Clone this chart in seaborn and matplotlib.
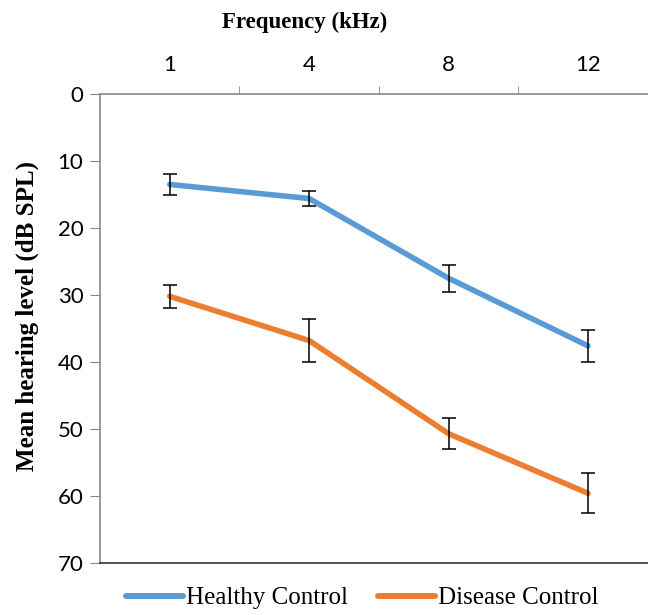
import matplotlib
matplotlib.use("Agg")
import matplotlib.pyplot as plt
import seaborn as sns
import pandas as pd
import numpy as np
from matplotlib.lines import Line2D

frequencies = ["1", "4", "8", "12"]
healthy_mean = [13.5, 15.6, 27.5, 37.6]
healthy_err = [1.6, 1.1, 2.0, 2.4]
disease_mean = [30.2, 36.8, 50.7, 59.6]
disease_err = [1.7, 3.2, 2.3, 3.0]
series_names = ["Healthy Control", "Disease Control"]
colors = ["#5B9BD5", "#ED7D31"]

sns.set_style("white")
sans = ["Lato", "DejaVu Sans"]
serif = ["Liberation Serif", "DejaVu Serif"]

pos = list(range(len(frequencies)))
df = pd.DataFrame({
    "pos": pos * 2,
    "value": healthy_mean + disease_mean,
    "err": healthy_err + disease_err,
    "group": [series_names[0]] * 4 + [series_names[1]] * 4,
})

fig = plt.figure(figsize=(6.48, 6.15), dpi=100)
ax = fig.add_axes([100 / 648, 1 - 563 / 615, 548 / 648, (563 - 94) / 615])

sns.lineplot(data=df, x="pos", y="value", hue="group", palette=colors,
             linewidth=4.0, ax=ax, legend=False, solid_capstyle="round")
for name in series_names:
    sub = df[df["group"] == name]
    ax.errorbar(sub["pos"], sub["value"], yerr=sub["err"], fmt="none",
                ecolor="black", elinewidth=1.1, capsize=5, capthick=1.1, zorder=5)

ax.set_xlim(-0.5, 3.43)
ax.set_ylim(70, 0)
ax.set_yticks(range(0, 71, 10))
ax.set_yticklabels([str(v) for v in range(0, 71, 10)], family=sans, fontsize=16, color="black")
ax.xaxis.tick_top()
ax.set_xticks(pos)
ax.set_xticklabels(frequencies, family=sans, fontsize=16, color="black")
ax.tick_params(axis="x", which="major", length=0, pad=14)
ax.set_xticks([0.5, 1.5, 2.5], minor=True)
ax.tick_params(axis="x", which="minor", length=6, color="#888888", direction="out", top=True, bottom=False)
ax.tick_params(axis="y", length=7, color="#888888", direction="out", left=True, pad=5)
for s in ["left", "top"]:
    ax.spines[s].set_color("#888888")
    ax.spines[s].set_linewidth(1.2)
ax.spines["bottom"].set_color("#333333")
ax.spines["bottom"].set_linewidth(1.2)
ax.spines["right"].set_visible(False)

ax.set_xlabel("")
ax.set_ylabel("")
fig.text(305 / 648, 1 - 22 / 615, "Frequency (kHz)", ha="center", va="center",
         family=serif, fontsize=16.5, fontweight="bold", color="black")
fig.text(27 / 648, 1 - 316 / 615, "Mean hearing level (dB SPL)", ha="center", va="center",
         rotation=90, family=serif, fontsize=18, fontweight="bold", color="black")

handles = [Line2D([], [], color=c, linewidth=4.3, solid_capstyle="round") for c in colors]
fig.legend(handles, series_names, loc="center", bbox_to_anchor=(362 / 648, 1 - 598 / 615),
           ncol=2, frameon=False, prop={"family": serif, "size": 18},
           handlelength=2.3, handletextpad=0.1, columnspacing=1.2, labelcolor="black")

fig.savefig("out.png", dpi=100)
